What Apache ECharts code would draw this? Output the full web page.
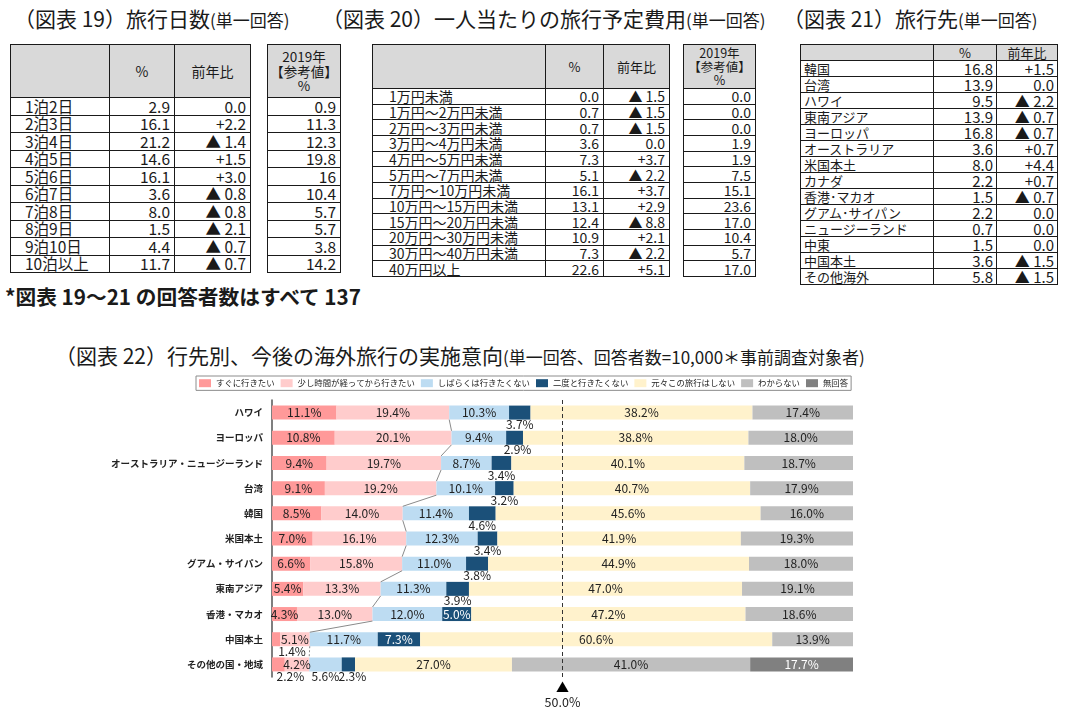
<!DOCTYPE html>
<html><head><meta charset="utf-8">
<script src="https://cdn.jsdelivr.net/npm/echarts@6/dist/echarts.min.js"></script>
<style>
html,body{margin:0;padding:0;background:#fff}
body{width:1065px;height:722px;position:relative;overflow:hidden;font-family:"Noto Sans CJK JP","Noto Sans",sans-serif;color:#111}
.t{position:absolute;white-space:nowrap;font-size:21px;line-height:24px;color:#1a1a1a}
.t small{font-size:17px}
table{position:absolute;border-collapse:collapse;table-layout:fixed}
td,th{border:1px solid #1a1a1a;padding:0;line-height:1;white-space:nowrap;overflow:hidden;font-weight:normal;color:#1a1a1a}
th{background:#d9d9d9;text-align:center}
#c22{position:absolute;left:0;top:330px;width:1065px;height:392px}
</style></head>
<body>
<div class="t" style="left:14px;top:6px">（図表 19）旅行日数<small>(単一回答)</small></div>
<div class="t" style="left:322px;top:6px">（図表 20）一人当たりの旅行予定費用<small>(単一回答)</small></div>
<div class="t" style="left:783px;top:6px;background:#fff;padding-left:4px;margin-left:-4px">（図表 21）旅行先<small>(単一回答)</small></div>
<div class="t" style="left:5px;top:284px;font-size:20.7px;font-weight:bold">*図表 19～21 の回答者数はすべて 137</div>
<div class="t" style="left:55px;top:343px">（図表 22）行先別、今後の海外旅行の実施意向<small>(単一回答、回答者数=10,000＊事前調査対象者)</small></div>
<div id="c22"></div>
<script>
// ---------- 図表19 ----------
const nightsLabels = ['1泊2日','2泊3日','3泊4日','4泊5日','5泊6日','6泊7日','7泊8日','8泊9日','9泊10日','10泊以上'];
const nightsPct = ['2.9','16.1','21.2','14.6','16.1','3.6','8.0','1.5','4.4','11.7'];
const nightsDiff = ['0.0','+2.2','▲ 1.4','+1.5','+3.0','▲ 0.8','▲ 0.8','▲ 2.1','▲ 0.7','▲ 0.7'];
const nights2019 = ['0.9','11.3','12.3','19.8','16','10.4','5.7','5.7','3.8','14.2'];
// ---------- 図表20 ----------
const costLabels = ['1万円未満','1万円～2万円未満','2万円～3万円未満','3万円～4万円未満','4万円～5万円未満','5万円～7万円未満','7万円～10万円未満','10万円～15万円未満','15万円～20万円未満','20万円～30万円未満','30万円～40万円未満','40万円以上'];
const costPct = ['0.0','0.7','0.7','3.6','7.3','5.1','16.1','13.1','12.4','10.9','7.3','22.6'];
const costDiff = ['▲ 1.5','▲ 1.5','▲ 1.5','0.0','+3.7','▲ 2.2','+3.7','+2.9','▲ 8.8','+2.1','▲ 2.2','+5.1'];
const cost2019 = ['0.0','0.0','0.0','1.9','1.9','7.5','15.1','23.6','17.0','10.4','5.7','17.0'];
// ---------- 図表21 ----------
const destLabels = ['韓国','台湾','ハワイ','東南アジア','ヨーロッパ','オーストラリア','米国本土','カナダ','香港･マカオ','グアム･サイパン','ニュージーランド','中東','中国本土','その他海外'];
const destPct = ['16.8','13.9','9.5','13.9','16.8','3.6','8.0','2.2','1.5','2.2','0.7','1.5','3.6','5.8'];
const destDiff = ['+1.5','0.0','▲ 2.2','▲ 0.7','▲ 0.7','+0.7','+4.4','+0.7','▲ 0.7','0.0','0.0','0.0','▲ 1.5','▲ 1.5'];
// ---------- 図表22 ----------
const destinations = ['ハワイ','ヨーロッパ','オーストラリア・ニュージーランド','台湾','韓国','米国本土','グアム・サイパン','東南アジア','香港・マカオ','中国本土','その他の国・地域'];
const seriesNames = ['すぐに行きたい','少し時間が経ってから行きたい','しばらくは行きたくない','二度と行きたくない','元々この旅行はしない','わからない','無回答'];
const soon         = [11.1,10.8, 9.4, 9.1, 8.5, 7.0, 6.6, 5.4, 4.3, 1.4, 2.2];
const later        = [19.4,20.1,19.7,19.2,14.0,16.1,15.8,13.3,13.0, 5.1, 4.2];
const notForAWhile = [10.3, 9.4, 8.7,10.1,11.4,12.3,11.0,11.3,12.0,11.7, 5.6];
const never        = [ 3.7, 2.9, 3.4, 3.2, 4.6, 3.4, 3.8, 3.9, 5.0, 7.3, 2.3];
const noPlan       = [38.2,38.8,40.1,40.7,45.6,41.9,44.9,47.0,47.2,60.6,27.0];
const unknown      = [17.4,18.0,18.7,17.9,16.0,19.3,18.0,19.1,18.6,13.9,41.0];
const noAnswer     = [ 0, 0, 0, 0, 0, 0, 0, 0, 0, 0,17.7];
const xTicks = [0, 50, 100];
const markValue = 50;

// ---------- table builder ----------
function makeTable(o){
  const t=document.createElement('table');
  t.style.left=o.left+'px'; t.style.top=o.top+'px';
  t.style.width=o.widths.reduce((a,b)=>a+b,0)+'px';
  const cg=document.createElement('colgroup');
  o.widths.forEach(w=>{const c=document.createElement('col');c.style.width=w+'px';cg.appendChild(c);});
  t.appendChild(cg);
  const hr=t.insertRow(); hr.style.height=o.headH+'px';
  o.header.forEach(h=>{const th=document.createElement('th');th.innerHTML=h;th.style.fontSize=o.headFont+'px';th.style.lineHeight=o.headLH||'1';hr.appendChild(th);});
  o.rows.forEach(r=>{
    const tr=t.insertRow(); tr.style.height=o.rowH+'px';
    r.forEach((c,i)=>{
      const td=tr.insertCell(); td.textContent=c;
      td.style.textAlign=o.aligns[i];
      td.style.fontSize=(o.fonts?o.fonts[i]:o.font)+'px';
      if(o.aligns[i]==='left') td.style.paddingLeft=o.padL+'px'; else td.style.paddingRight=o.padR+'px';
    });
  });
  document.body.appendChild(t);
}
const zip=(...a)=>a[0].map((_,i)=>a.map(x=>x[i]));
makeTable({left:10,top:44,widths:[99,65,76],headH:53,rowH:17.5,header:['','%','前年比'],headFont:14,
  rows:zip(nightsLabels,nightsPct,nightsDiff),aligns:['left','right','right'],font:15.5,padL:14,padR:4});
makeTable({left:267,top:44,widths:[73],headH:53,rowH:17.5,header:['2019年<br>【参考値】<br>%'],headFont:13.5,headLH:'1.1',
  rows:zip(nights2019),aligns:['right'],font:15.5,padR:4});
makeTable({left:372,top:44,widths:[173,58,66],headH:44,rowH:15.67,header:['','%','前年比'],headFont:13,
  rows:zip(costLabels,costPct,costDiff),aligns:['left','right','right'],font:14,padL:16,padR:4});
makeTable({left:683,top:44,widths:[72],headH:44,rowH:15.67,header:['2019年<br>【参考値】<br>%'],headFont:12.5,headLH:'1.1',
  rows:zip(cost2019),aligns:['right'],font:14,padR:4});
makeTable({left:800,top:44,widths:[133,63,61],headH:16,rowH:15.43,header:['','%','前年比'],headFont:13,
  rows:zip(destLabels,destPct,destDiff),aligns:['left','right','right'],fonts:[13,15,15],padL:3,padR:3});

// ---------- chart 22 ----------
const colors=['#FF9999','#FFCCCC','#BDDCF2','#1B5079','#FFF2CC','#BFBFBF','#808080'];
const seriesData=[soon,later,notForAWhile,never,noPlan,unknown,noAnswer];
const BAR=14;
const fmt=v=>v.toFixed(1)+'%';
// labels placed below the bar: [seriesIndex,rowIndex,offsetX]
const below=[[3,0,0],[3,1,3],[3,2,0],[3,3,0],[3,4,0],[3,5,0],[3,6,0],[3,7,0],[3,10,4],[0,9,16],[0,10,12],[2,10,0]];
const whiteLbl=[[3,8],[3,9],[6,10]];
const chart=echarts.init(document.getElementById('c22'),null,{renderer:'canvas'});
const FONT='"Noto Sans CJK JP","Noto Sans",sans-serif';
const barSeries=seriesData.map((arr,si)=>({
  name:seriesNames[si],type:'bar',stack:'all',barWidth:BAR,
  itemStyle:{color:colors[si]},
  label:{show:true,position:'inside',fontSize:12,color:'#222',fontFamily:FONT,
    formatter:p=>p.value>0?fmt(p.value):''},
  data:arr.map((v,ri)=>{
    const b=below.find(x=>x[0]===si&&x[1]===ri);
    const w=whiteLbl.find(x=>x[0]===si&&x[1]===ri);
    const item={value:v};
    if(b) item.label={position:'bottom',distance:-1,offset:[b[2],0]};
    if(w) item.label={color:'#fff'};
    return item;
  })
}));
// series lines between the 2nd and 3rd segments
const cum=soon.map((v,i)=>v+later[i]);
const linkData=cum.slice(0,-1).map((v,i)=>[v,i,cum[i+1],i+1]);
barSeries.push({
  type:'custom',name:'link',silent:true,z:5,
  encode:{x:[0,2],y:[1,3]},
  renderItem:(params,api)=>{
    const p1=api.coord([api.value(0),api.value(1)]);
    const p2=api.coord([api.value(2),api.value(3)]);
    const last=params.dataIndex===linkData.length-1;
    return {type:'line',shape:{x1:p1[0],y1:p1[1]+BAR/2,x2:p2[0],y2:p2[1]-BAR/2},
      style:{stroke:'#8a8a8a',lineWidth:1,lineDash:last?[2,2]:null}};
  },
  data:linkData
});
barSeries[6].markLine={silent:true,symbol:'none',label:{show:false},
  lineStyle:{type:[4,3],color:'#333',width:1},data:[{xAxis:markValue}]};
chart.setOption({
  animation:false,
  textStyle:{fontFamily:FONT},
  legend:{data:seriesNames,left:196,top:46,icon:'rect',itemWidth:12,itemHeight:8,itemGap:6,
    padding:[3,3],borderColor:'#8c8c8c',borderWidth:1,
    textStyle:{fontSize:8.4,color:'#222',fontFamily:FONT}},
  grid:{left:272,right:212,top:70,bottom:45,containLabel:false},
  xAxis:{type:'value',min:xTicks[0],max:xTicks[2],interval:xTicks[1]-xTicks[0],
    axisLine:{show:false},axisTick:{show:false},splitLine:{show:false},
    axisLabel:{margin:3,fontSize:12,color:'#222',formatter:v=>v===markValue?'{a|▲}\n{b|'+markValue.toFixed(1)+'%}':'',
      rich:{a:{fontSize:13,color:'#000',lineHeight:14,align:'center'},b:{fontSize:12.5,color:'#222',lineHeight:17,align:'center',fontFamily:FONT}}}},
  yAxis:{type:'category',inverse:true,data:destinations,
    axisLine:{show:true,lineStyle:{color:'#555',width:1.5}},axisTick:{show:false},
    axisLabel:{fontSize:9.5,fontWeight:'bold',color:'#222',margin:9,fontFamily:FONT}},
  series:barSeries
});
</script>
</body></html>
